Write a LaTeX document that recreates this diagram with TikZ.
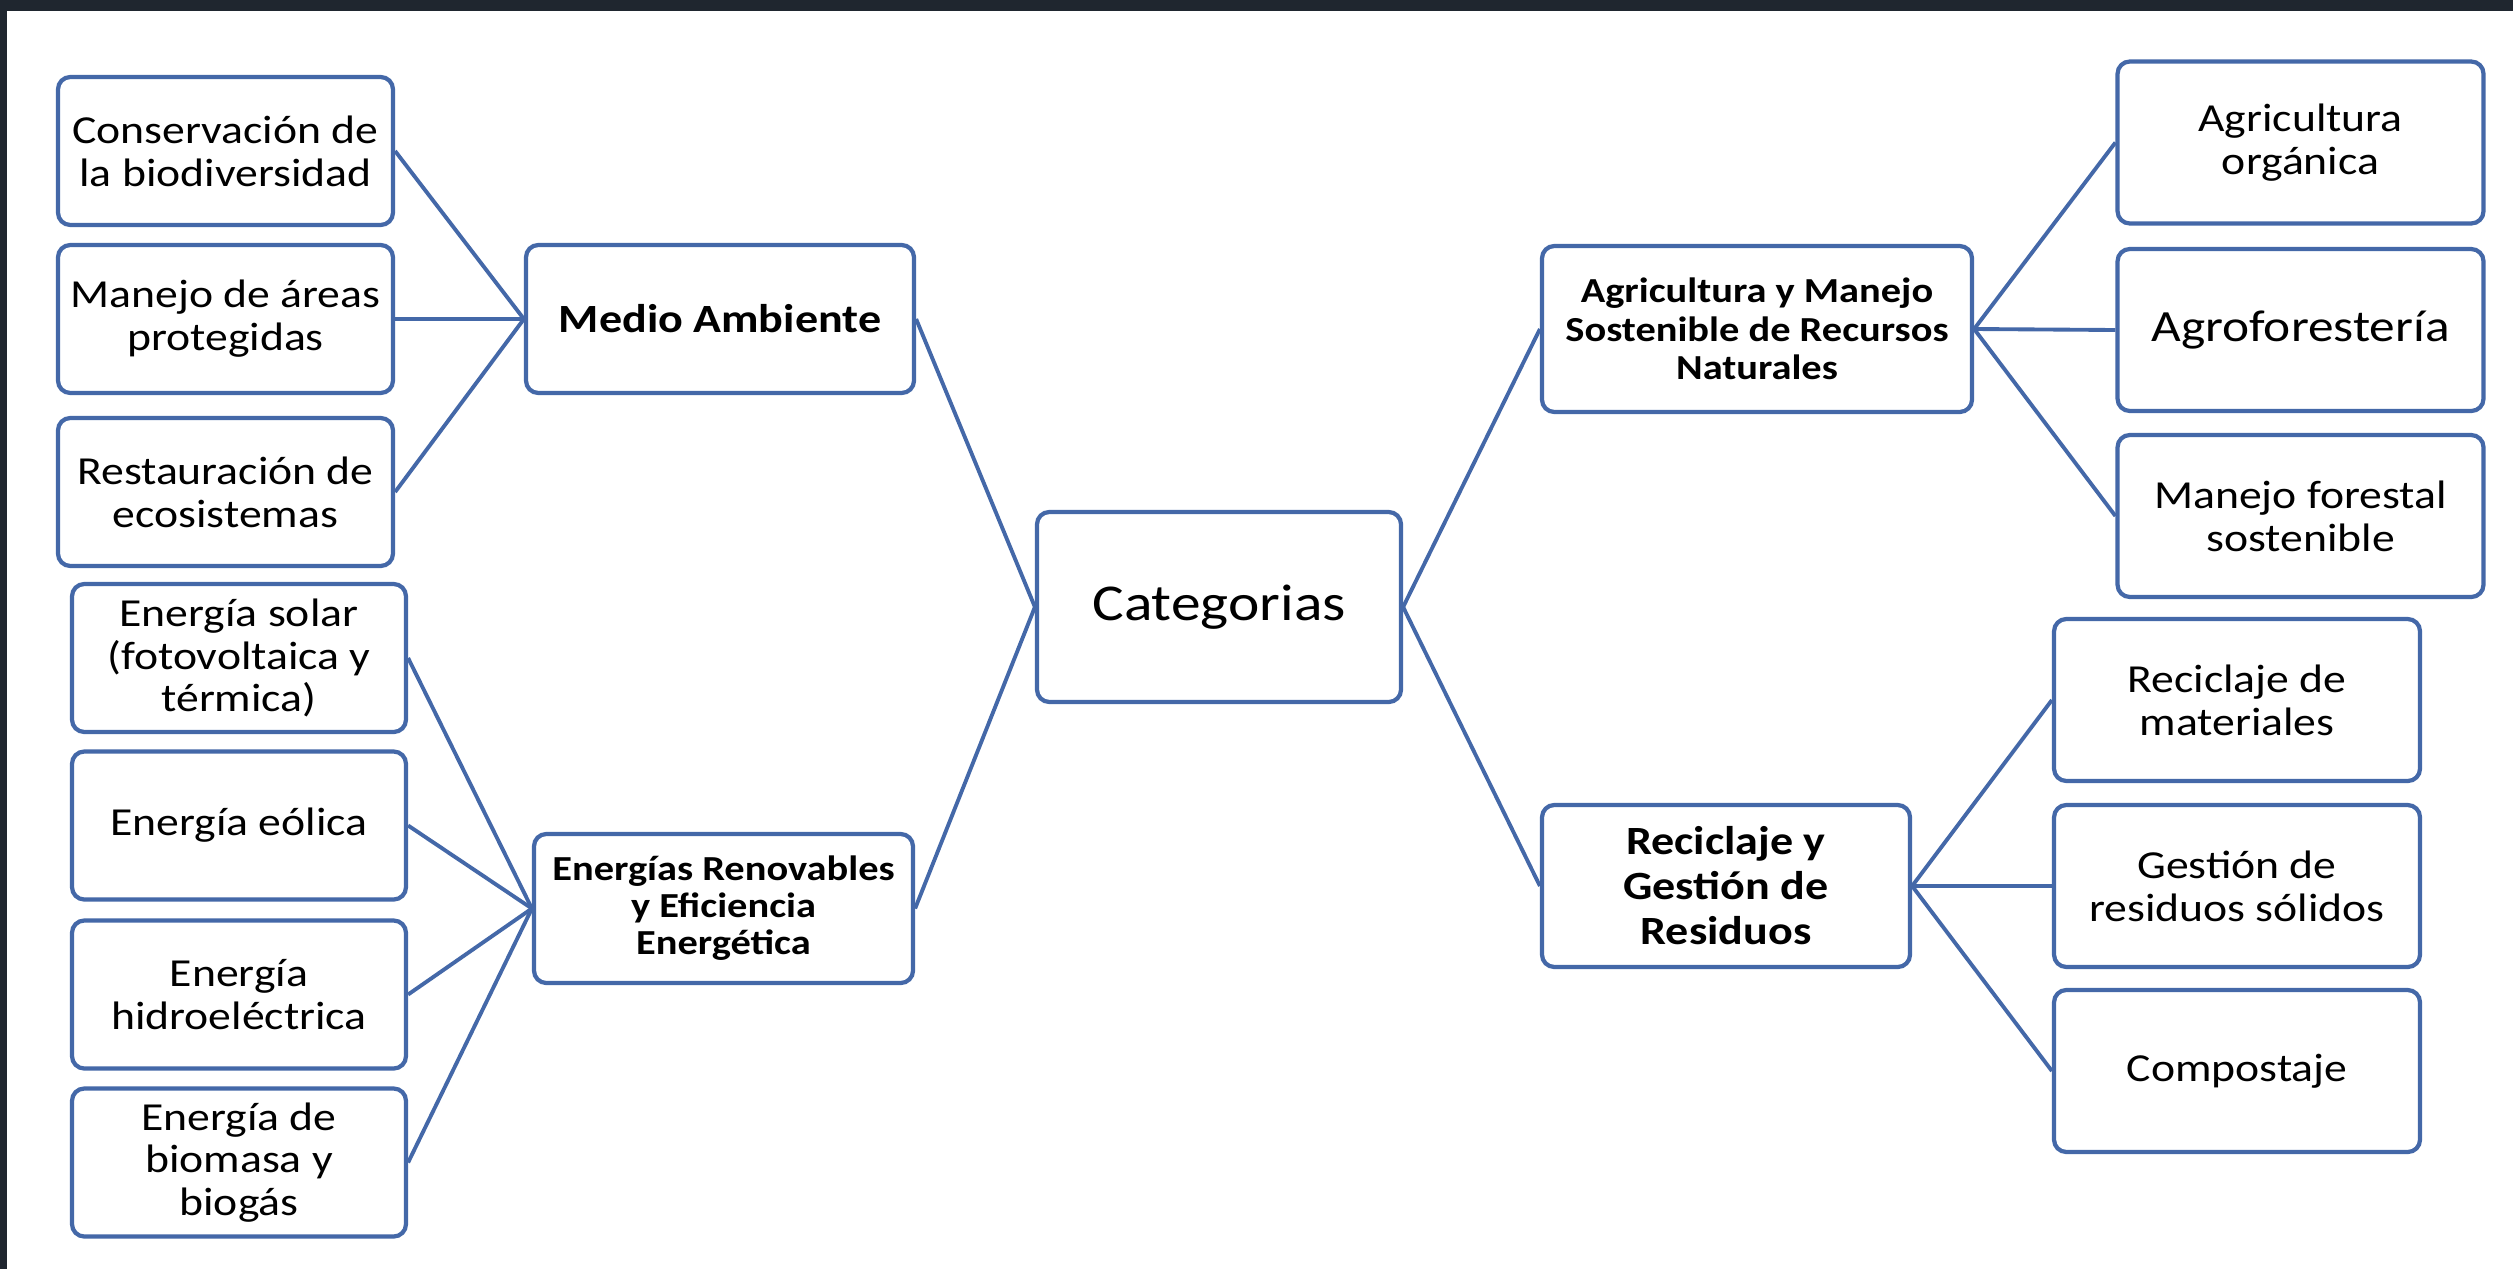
\documentclass[tikz,border=0pt]{standalone}
\usepackage{fontspec}
\setmainfont{Carlito}[FakeStretch=1.15]
\usepackage{xcolor}
\definecolor{boxblue}{RGB}{68,104,168}
\definecolor{framedark}{RGB}{31,38,47}

\begin{document}
\begin{tikzpicture}[x=0.1mm,y=-0.1mm]
\tikzset{box/.style={draw=boxblue,line width=1.2pt,rounded corners=3.5pt,fill=white,align=center,inner sep=2pt}}
\tikzset{leaf/.style={box,minimum width=33.5mm,minimum height=14.8mm,font=\fontsize{11.3}{12.2}\selectfont}}
\tikzset{rleaf/.style={leaf,minimum width=36.6mm,minimum height=16.2mm}}
\tikzset{branch/.style={box,font=\bfseries\fontsize{11.4}{12.8}\selectfont}}
\tikzset{link/.style={draw=boxblue,line width=1.1pt}}

\useasboundingbox (0,0) rectangle (2513,1269);
\fill[white] (0,0) rectangle (2513,1269);
\fill[framedark] (0,0) rectangle (2513,11);
\fill[framedark] (0,0) rectangle (7,1269);

% centre
\node[box,minimum width=36.4mm,minimum height=19mm,font=\fontsize{14.7}{16}\selectfont] (cat) at (1219,607) {Categorias};

% left side
\node[branch,minimum width=38.8mm,minimum height=14.8mm] (medio) at (720,319) {Medio Ambiente};
\node[leaf] (cons) at (225.5,151) {Conservación de\\la biodiversidad};
\node[leaf] (areas) at (225.5,319) {Manejo de áreas\\protegidas};
\node[leaf] (rest) at (225.5,492) {Restauración de\\ecosistemas};

\node[branch,minimum width=37.9mm,minimum height=14.9mm,font=\bfseries\fontsize{10}{10.5}\selectfont] (energ) at (723.5,908.5) {Energías Renovables\\y Eficiencia\\Energética};
\node[leaf,minimum width=33.4mm] (solar) at (239,658) {Energía solar\\(fotovoltaica y\\térmica)};
\node[leaf,minimum width=33.4mm] (eolica) at (239,825.5) {Energía eólica};
\node[leaf,minimum width=33.4mm] (hidro) at (239,994.5) {Energía\\hidroeléctrica};
\node[leaf,minimum width=33.4mm] (biomasa) at (239,1162.5) {Energía de\\biomasa y\\biogás};

% right side
\node[branch,minimum width=43mm,minimum height=16.6mm,font=\bfseries\fontsize{10}{11}\selectfont] (agri) at (1757,329) {Agricultura y Manejo\\Sostenible de Recursos\\Naturales};
\node[rleaf] (organica) at (2300.5,142.5) {Agricultura\\orgánica};
\node[rleaf,font=\fontsize{12.7}{14}\selectfont] (agrofor) at (2300.5,330) {Agroforestería};
\node[rleaf] (forestal) at (2300.5,516) {Manejo forestal\\sostenible};

\node[branch,minimum width=36.8mm,minimum height=16.2mm] (recig) at (1726,886) {Reciclaje y\\Gestión de\\Residuos};
\node[rleaf] (mater) at (2237,700) {Reciclaje de\\materiales};
\node[rleaf] (solidos) at (2237,886) {Gestión de\\residuos sólidos};
\node[rleaf] (compost) at (2237,1071) {Compostaje};

% connectors
\foreach \n in {cons,areas,rest} \draw[link] (\n.east) -- (medio.west);
\foreach \n in {solar,eolica,hidro,biomasa} \draw[link] (\n.east) -- (energ.west);
\foreach \n in {organica,agrofor,forestal} \draw[link] (agri.east) -- (\n.west);
\foreach \n in {mater,solidos,compost} \draw[link] (recig.east) -- (\n.west);
\foreach \n in {medio,energ} \draw[link] (\n.east) -- (cat.west);
\foreach \n in {agri,recig} \draw[link] (cat.east) -- (\n.west);

\end{tikzpicture}
\end{document}
